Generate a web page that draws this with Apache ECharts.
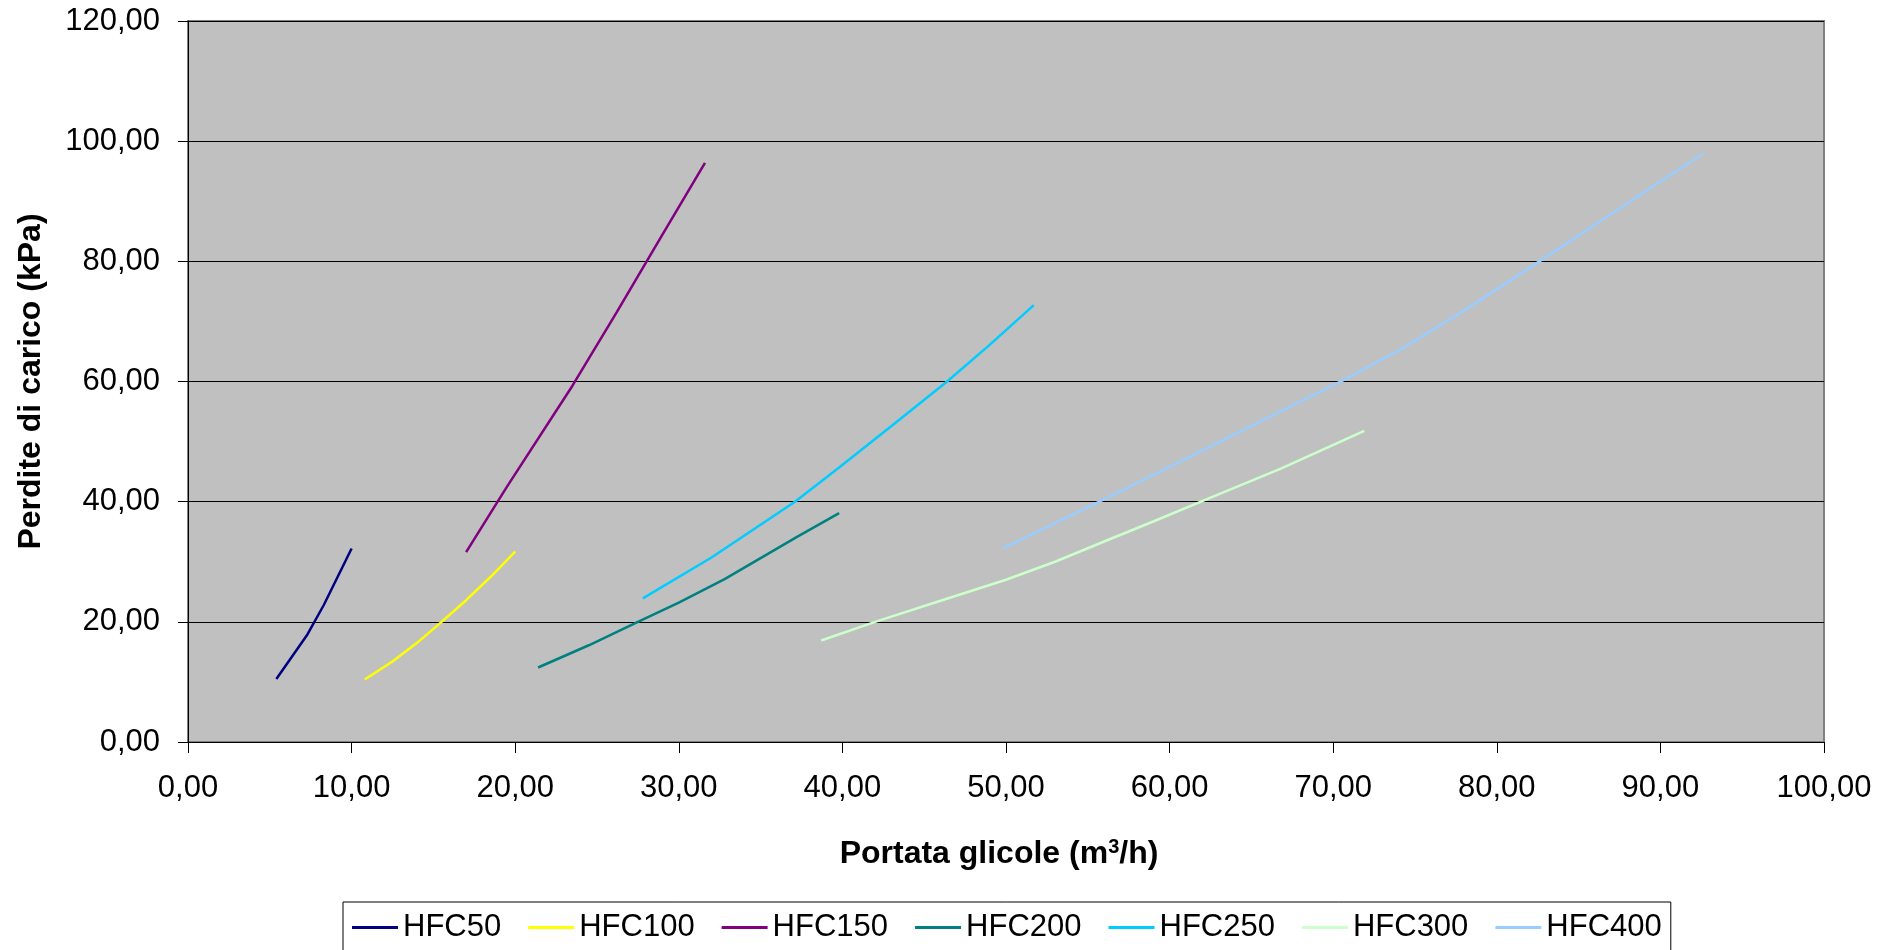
<!DOCTYPE html>
<html>
<head>
<meta charset="utf-8">
<script src="https://cdn.jsdelivr.net/npm/echarts@6/dist/echarts.min.js"></script>
<style>
html,body{margin:0;padding:0;background:#fff;}
#c{width:1897px;height:950px;}
</style>
</head>
<body>
<div id="c"></div>
<script>
// Series names
var seriesNames = ['HFC50','HFC100','HFC150','HFC200','HFC250','HFC300','HFC400'];
// Data points [portata m3/h, perdite kPa]
var hfc50  = [[5.4,10.5],[7.3,17.9],[8.3,22.8],[10.0,32.2]];
var hfc100 = [[10.8,10.4],[12.5,13.4],[14.0,16.5],[15.5,20.0],[17.0,23.6],[18.5,27.5],[20.0,31.7]];
var hfc150 = [[17.0,31.6],[19.5,42.5],[23.5,59.3],[26.2,71.5],[28.9,84.0],[31.6,96.4]];
var hfc200 = [[21.4,12.4],[24.5,16.1],[27.5,20.0],[30.0,23.2],[32.8,27.1],[35.0,30.6],[37.2,34.1],[39.8,38.1]];
var hfc250 = [[27.8,23.9],[32.0,30.7],[37.1,40.0],[39.8,45.7],[43.0,52.6],[46.4,60.0],[49.0,66.1],[51.7,72.7]];
var hfc300 = [[38.7,16.9],[42.0,20.0],[46.0,23.5],[50.0,27.0],[53.0,30.0],[56.3,33.7],[59.0,36.7],[62.1,40.2],[66.8,45.5],[71.9,51.8]];
var hfc400 = [[49.8,32.2],[55.7,40.0],[60.0,45.8],[65.0,52.6],[70.6,60.2],[74.1,65.3],[78.0,71.8],[82.6,80.0],[87.5,88.8],[92.6,97.9]];
var seriesData = [hfc50,hfc100,hfc150,hfc200,hfc250,hfc300,hfc400];
var colors = ['#000080','#FFFF00','#800080','#008080','#00CCFF','#CCFFCC','#99CCFF'];

var fmt = function(v){ return v.toFixed(2).replace('.', ','); };
var FONT = '"Liberation Sans", Arial, sans-serif';

var chart = echarts.init(document.getElementById('c'), null, {renderer:'canvas'});
chart.setOption({
  animation:false,
  textStyle:{fontFamily:FONT},
  color:colors,
  grid:{left:188,right:73,top:21,bottom:208,show:true,backgroundColor:'#C0C0C0',borderColor:'#808080',borderWidth:2},
  legend:{
    data:seriesNames,
    left:343, top:902,
    padding:[10,9,10,9],
    borderColor:'#000', borderWidth:1,
    itemWidth:46, itemHeight:3, itemGap:27,
    icon:'rect',
    textStyle:{fontSize:31,color:'#000',fontFamily:FONT}
  },
  xAxis:{
    type:'value', min:0, max:100, interval:10,
    name:'{a|Portata glicole (m}{s|3}{a|/h)}',
    nameLocation:'middle', nameGap:95,
    nameTextStyle:{padding:[0,14,0,0],rich:{
      a:{fontSize:32,fontWeight:'bold',color:'#000',fontFamily:FONT},
      s:{fontSize:20,fontWeight:'bold',color:'#000',fontFamily:FONT,verticalAlign:'top',padding:[0,0,14,0]}
    }},
    axisLine:{show:true,lineStyle:{color:'#000',width:1}},
    axisTick:{show:true,length:11,lineStyle:{color:'#000'}},
    axisLabel:{formatter:fmt,fontSize:31,color:'#000',margin:31,fontFamily:FONT},
    splitLine:{show:false}
  },
  yAxis:{
    type:'value', min:0, max:120, interval:20,
    name:'Perdite di carico (kPa)',
    nameLocation:'middle', nameGap:141,
    nameTextStyle:{fontSize:32,fontWeight:'bold',color:'#000',fontFamily:FONT},
    axisLine:{show:true,lineStyle:{color:'#000',width:1}},
    axisTick:{show:true,length:10,lineStyle:{color:'#000'}},
    axisLabel:{formatter:fmt,fontSize:31,color:'#000',margin:28,fontFamily:FONT},
    splitLine:{show:true,lineStyle:{color:'#000',width:1}}
  },
  series:seriesNames.map(function(n,i){
    return {name:n,type:'line',data:seriesData[i],showSymbol:false,symbol:'none',
      lineStyle:{width:2.5,color:colors[i]},itemStyle:{color:colors[i]}};
  })
});
</script>
</body>
</html>
